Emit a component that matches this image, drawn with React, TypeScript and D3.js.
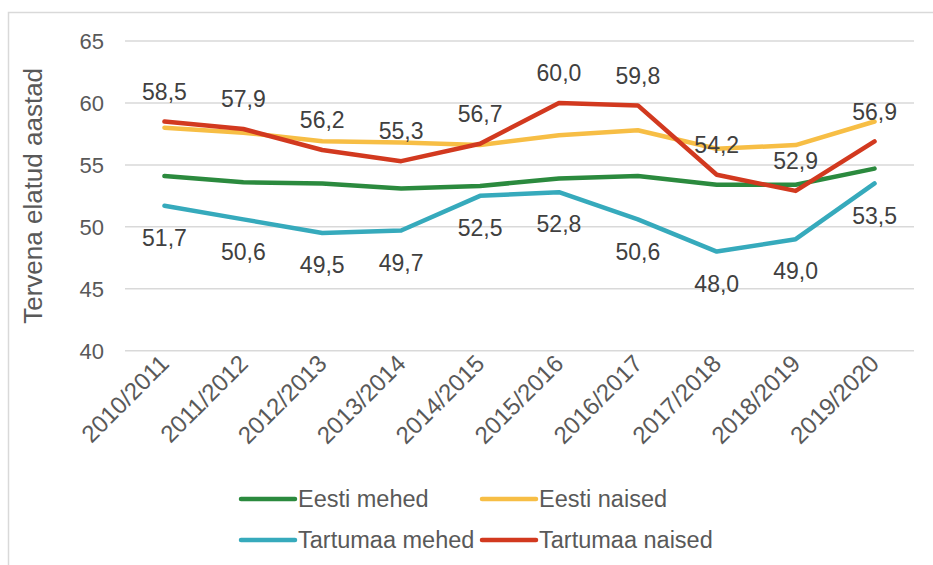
import React from "react";
import * as d3 from "d3";

const categories = ["2010/2011","2011/2012","2012/2013","2013/2014","2014/2015","2015/2016","2016/2017","2017/2018","2018/2019","2019/2020"];
const eestiMehed = [54.1, 53.6, 53.5, 53.1, 53.3, 53.9, 54.1, 53.4, 53.4, 54.7];
const eestiNaised = [58.0, 57.6, 56.9, 56.8, 56.6, 57.4, 57.8, 56.3, 56.6, 58.5];
const tartumaaMehed = [51.7, 50.6, 49.5, 49.7, 52.5, 52.8, 50.6, 48.0, 49.0, 53.5];
const tartumaaNaised = [58.5, 57.9, 56.2, 55.3, 56.7, 60.0, 59.8, 54.2, 52.9, 56.9];
const yTicks = [40, 45, 50, 55, 60, 65];

const series = [
  { name: "Eesti mehed", values: eestiMehed, color: "#2B8A3E", label: null },
  { name: "Eesti naised", values: eestiNaised, color: "#F7BE45", label: null },
  { name: "Tartumaa mehed", values: tartumaaMehed, color: "#36AABC", label: "below" },
  { name: "Tartumaa naised", values: tartumaaNaised, color: "#D2391F", label: "above" },
];

const fmt = (v: number) => v.toFixed(1).replace(".", ",");

export default function App() {
  const W = 933, H = 565;
  const left = 125, right = 914, top = 41, bottom = 350.7;
  const x = d3.scaleBand<string>().domain(categories).range([left, right]);
  const y = d3.scaleLinear().domain([40, 65]).range([bottom, top]);
  const cx = (c: string) => (x(c) as number) + x.bandwidth() / 2;
  const line = d3.line<number>().x((_, i) => cx(categories[i])).y((v) => y(v));
  const font = "Arial, 'Liberation Sans', sans-serif";
  const drawOrder = [1, 0, 2, 3];
  const legend = [
    { s: series[0], lx: 241, ly: 499 },
    { s: series[1], lx: 482, ly: 499 },
    { s: series[2], lx: 241, ly: 540 },
    { s: series[3], lx: 482, ly: 540 },
  ];
  return (
    <svg width={W} height={H} style={{ position: "absolute", left: 0, top: 0, background: "#fff" }} fontFamily={font}>
      <rect x={8.5} y={12.5} width={1000} height={1000} fill="none" stroke="#d9d9d9" strokeWidth={1.5} />
      {yTicks.map((t) => (
        <g key={t}>
          <line x1={left} x2={right} y1={y(t)} y2={y(t)} stroke="#d9d9d9" strokeWidth={1.5} />
          <text x={104} y={y(t)} dy="0.36em" textAnchor="end" fontSize={22} fill="#595959">{t}</text>
        </g>
      ))}
      <text transform={`translate(42,${(top + bottom) / 2}) rotate(-90)`} textAnchor="middle" fontSize={26} fill="#595959">Tervena elatud aastad</text>
      {categories.map((c) => (
        <text key={c} transform={`translate(${cx(c) + 6},${365}) rotate(-45)`} textAnchor="end" fontSize={24} fill="#595959">{c}</text>
      ))}
      {drawOrder.map((k) => {
        const s = series[k];
        return <path key={s.name} d={line(s.values) as string} fill="none" stroke={s.color} strokeWidth={4.5} strokeLinejoin="round" strokeLinecap="round" />;
      })}
      {series.filter((s) => s.label).map((s) =>
        s.values.map((v, i) => (
          <text key={s.name + i} x={cx(categories[i])} y={y(v) + (s.label === "above" ? -30 : 32)} dy="0.36em" textAnchor="middle" fontSize={23} fill="#404040">{fmt(v)}</text>
        ))
      )}
      {legend.map(({ s, lx, ly }) => (
        <g key={s.name}>
          <line x1={lx} x2={lx + 54} y1={ly} y2={ly} stroke={s.color} strokeWidth={4.5} strokeLinecap="round" />
          <text x={lx + 57} y={ly} dy="0.36em" fontSize={23.5} fill="#595959">{s.name}</text>
        </g>
      ))}
    </svg>
  );
}
